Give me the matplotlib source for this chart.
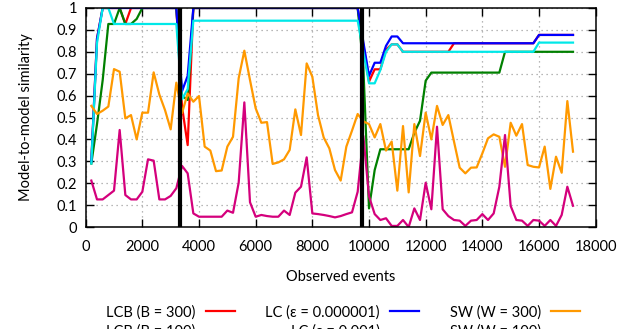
import numpy as np
import matplotlib
matplotlib.use("Agg")
import matplotlib.pyplot as plt

plt.rcParams['font.family'] = ['Lato', 'DejaVu Sans']

# observed events (sampled every 200 events)
events = np.arange(200, 17201, 200)

# drift points (thick black vertical lines)
drifts = [3340, 9740]

lcb_300 = [0.30, 0.86, 1.0, 1.0, 1.0, 1.0, 0.927, 1.0, 1.0, 1.0,
           1.0, 1.0, 1.0, 1.0, 1.0, 1.0, 0.55, 0.374, 1.0, 1.0,
           1.0, 1.0, 1.0, 1.0, 1.0, 1.0, 1.0, 1.0, 1.0, 1.0,
           1.0, 1.0, 1.0, 1.0, 1.0, 1.0, 1.0, 1.0, 1.0, 1.0,
           1.0, 1.0, 1.0, 1.0, 1.0, 1.0, 1.0, 1.0, 0.83, 0.664,
           0.72, 0.72, 0.81, 0.834, 0.834, 0.80, 0.80, 0.80, 0.80, 0.80,
           0.80, 0.80, 0.80, 0.80, 0.839, 0.839, 0.839, 0.839, 0.839, 0.839,
           0.839, 0.839, 0.839, 0.839, 0.839, 0.839, 0.839, 0.839, 0.839, 0.877,
           0.877, 0.877, 0.877, 0.877, 0.877, 0.877]

lcb_100 = [0.29, 0.47, 0.67, 0.927, 0.927, 1.0, 0.927, 0.927, 0.95, 1.0,
           1.0, 1.0, 1.0, 1.0, 1.0, 1.0, 0.60, 0.58, 1.0, 1.0,
           1.0, 1.0, 1.0, 1.0, 1.0, 1.0, 1.0, 1.0, 1.0, 1.0,
           1.0, 1.0, 1.0, 1.0, 1.0, 1.0, 1.0, 1.0, 1.0, 1.0,
           1.0, 1.0, 1.0, 1.0, 1.0, 1.0, 1.0, 1.0, 0.73, 0.085,
           0.26, 0.355, 0.355, 0.355, 0.355, 0.355, 0.355, 0.43, 0.485, 0.668,
           0.705, 0.705, 0.705, 0.705, 0.705, 0.705, 0.705, 0.705, 0.705, 0.705,
           0.705, 0.705, 0.705, 0.80, 0.80, 0.80, 0.80, 0.80, 0.80, 0.80,
           0.80, 0.80, 0.80, 0.80, 0.80, 0.80]

lc_1e6 = [0.30, 0.86, 1.0, 1.0, 1.0, 1.0, 1.0, 1.0, 1.0, 1.0,
          1.0, 1.0, 1.0, 1.0, 1.0, 1.0, 0.62, 0.69, 1.0, 1.0,
          1.0, 1.0, 1.0, 1.0, 1.0, 1.0, 1.0, 1.0, 1.0, 1.0,
          1.0, 1.0, 1.0, 1.0, 1.0, 1.0, 1.0, 1.0, 1.0, 1.0,
          1.0, 1.0, 1.0, 1.0, 1.0, 1.0, 1.0, 1.0, 0.845, 0.69,
          0.75, 0.75, 0.827, 0.87, 0.87, 0.839, 0.839, 0.839, 0.839, 0.839,
          0.839, 0.839, 0.839, 0.839, 0.839, 0.839, 0.839, 0.839, 0.839, 0.839,
          0.839, 0.839, 0.839, 0.839, 0.839, 0.839, 0.839, 0.839, 0.839, 0.877,
          0.877, 0.877, 0.877, 0.877, 0.877, 0.877]

lc_1e3 = [0.29, 0.84, 1.0, 1.0, 0.927, 0.927, 0.927, 0.927, 0.927, 0.927,
          0.927, 0.927, 0.927, 0.927, 0.927, 0.927, 0.583, 0.63, 0.942, 0.942,
          0.942, 0.942, 0.942, 0.942, 0.942, 0.942, 0.942, 0.942, 0.942, 0.942,
          0.942, 0.942, 0.942, 0.942, 0.942, 0.942, 0.942, 0.942, 0.942, 0.942,
          0.942, 0.942, 0.942, 0.942, 0.942, 0.942, 0.942, 0.942, 0.80, 0.656,
          0.656, 0.717, 0.80, 0.834, 0.834, 0.80, 0.80, 0.80, 0.80, 0.80,
          0.80, 0.80, 0.80, 0.80, 0.80, 0.80, 0.80, 0.80, 0.80, 0.80,
          0.80, 0.80, 0.80, 0.80, 0.80, 0.80, 0.80, 0.80, 0.80, 0.842,
          0.842, 0.842, 0.842, 0.842, 0.842, 0.842]

sw_300 = [0.553, 0.516, 0.531, 0.550, 0.721, 0.709, 0.496, 0.511, 0.400, 0.522,
          0.522, 0.706, 0.605, 0.534, 0.446, 0.659, 0.520, 0.610, 0.572, 0.598,
          0.367, 0.349, 0.255, 0.258, 0.367, 0.412, 0.679, 0.805, 0.671, 0.542,
          0.476, 0.479, 0.288, 0.295, 0.309, 0.352, 0.537, 0.420, 0.747, 0.686,
          0.511, 0.409, 0.359, 0.260, 0.212, 0.367, 0.440, 0.516, 0.482, 0.470,
          0.409, 0.470, 0.349, 0.390, 0.166, 0.461, 0.158, 0.470, 0.324, 0.522,
          0.400, 0.553, 0.466, 0.511, 0.390, 0.271, 0.245, 0.271, 0.272, 0.336,
          0.405, 0.423, 0.412, 0.275, 0.476, 0.417, 0.470, 0.283, 0.275, 0.272,
          0.367, 0.174, 0.321, 0.248, 0.575, 0.344]

sw_100 = [0.212, 0.126, 0.126, 0.146, 0.166, 0.443, 0.146, 0.126, 0.126, 0.161,
          0.309, 0.303, 0.126, 0.126, 0.142, 0.177, 0.279, 0.245, 0.062, 0.047,
          0.047, 0.047, 0.047, 0.047, 0.075, 0.065, 0.202, 0.569, 0.113, 0.047,
          0.055, 0.050, 0.047, 0.047, 0.075, 0.055, 0.157, 0.184, 0.318, 0.062,
          0.059, 0.055, 0.050, 0.044, 0.050, 0.059, 0.067, 0.161, 0.416, 0.140,
          0.059, 0.032, 0.040, 0.005, 0.005, 0.032, 0.000, 0.085, 0.032, 0.202,
          0.081, 0.458, 0.081, 0.050, 0.032, 0.029, 0.005, 0.029, 0.032, 0.059,
          0.032, 0.062, 0.184, 0.420, 0.096, 0.032, 0.029, 0.005, 0.032, 0.029,
          0.005, 0.032, 0.005, 0.055, 0.184, 0.097]

series = [
    ("LCB (B = 300)", lcb_300, "#ff0000"),
    ("LCB (B = 100)", lcb_100, "#008000"),
    ("LC (\u03b5 = 0.000001)", lc_1e6, "#0000ff"),
    ("LC (\u03b5 = 0.001)", lc_1e3, "#00e8e8"),
    ("SW (W = 300)", sw_300, "#ff9900"),
    ("SW (W = 100)", sw_100, "#d4007c"),
]

fig = plt.figure(figsize=(6.36, 3.29), dpi=100)
ax = fig.add_axes([0.1347, 0.31, 0.8019, 0.6657])

for label, vals, col in series:
    ax.plot(events, vals, color=col, lw=1.6, label=label)

for d in drifts:
    ax.axvline(d, color="black", lw=3, zorder=5)

ax.set_xlim(0, 18000)
ax.set_ylim(0, 1)
ax.set_xticks(range(0, 18001, 2000))
yt = [round(0.1 * k, 1) for k in range(11)]
ax.set_yticks(yt)
ax.set_yticklabels(["0" if v == 0 else "1" if v == 1 else f"{v:.1f}" for v in yt])
ax.grid(True, color="#a0a0a0", lw=0.9, linestyle=(0, (1, 3)))
ax.tick_params(direction="in", length=6, width=1, top=True, right=True,
               labelsize=10.5, pad=6)
ax.tick_params(axis="x", pad=9)
for s in ax.spines.values():
    s.set_linewidth(1.1)

ax.set_xlabel("Observed events", fontsize=10.5, labelpad=12)
ax.set_ylabel("Model-to-model similarity", fontsize=10.5, labelpad=17)

# legend partly cut at the bottom edge, as in the original
ax.legend(loc="upper center", bbox_to_anchor=(0.505, -0.357), ncol=3,
          frameon=False, markerfirst=False, fontsize=10.5,
          handlelength=2.0, handletextpad=0.7, columnspacing=2.1,
          labelspacing=0.3, borderpad=0, borderaxespad=0)

fig.savefig("out.png", dpi=100)
